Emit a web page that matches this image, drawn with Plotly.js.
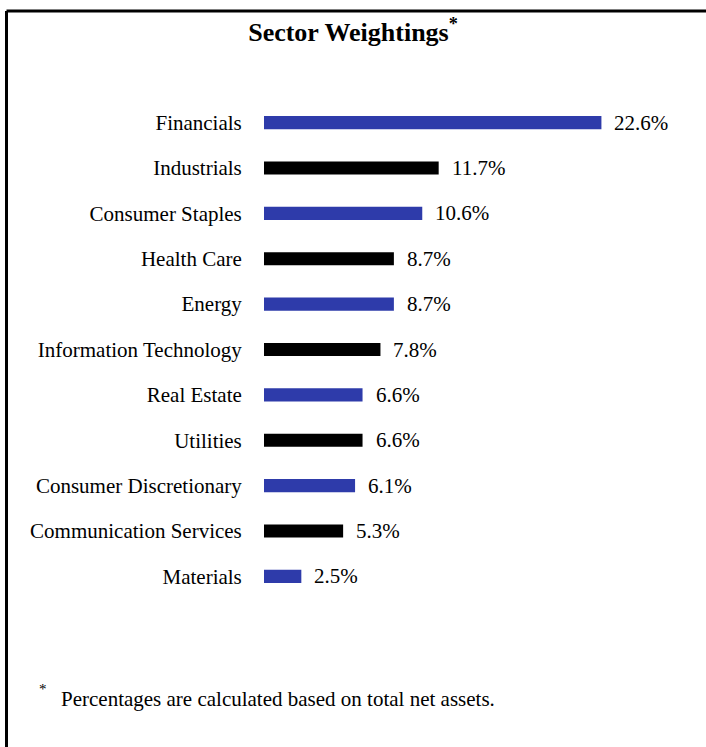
<!DOCTYPE html>
<html>
<head>
<meta charset="utf-8">
<script src="https://cdn.plot.ly/plotly-3.0.1.min.js"></script>
<style>html,body{margin:0;padding:0;background:#fff;}#chart{width:706px;height:747px;}</style>
</head>
<body>
<div id="chart"></div>
<script>
const sectors = ["Financials","Industrials","Consumer Staples","Health Care","Energy","Information Technology","Real Estate","Utilities","Consumer Discretionary","Communication Services","Materials"];
const weights = [22.6, 11.7, 10.6, 8.7, 8.7, 7.8, 6.6, 6.6, 6.1, 5.3, 2.5];
const barColors = ["#2E3BAA","#000000","#2E3BAA","#000000","#2E3BAA","#000000","#2E3BAA","#000000","#2E3BAA","#000000","#2E3BAA"];
const valueLabels = weights.map(v => v.toFixed(1) + "%");
const titleText = "Sector Weightings<sup>*</sup>";
const footnoteText = "Percentages are calculated based on total net assets.";

const FONT = "Liberation Serif";

const trace = {
  type: "bar",
  orientation: "h",
  x: weights,
  y: sectors,
  marker: {color: barColors},
  width: 0.29,
  hoverinfo: "none"
};

const annotations = weights.map((v, i) => ({
  x: v, y: sectors[i], xref: "x", yref: "y",
  text: valueLabels[i], showarrow: false,
  xanchor: "left", yanchor: "middle", xshift: 11,
  font: {family: FONT, size: 21, color: "#000"}
}));

annotations.push({
  xref: "paper", yref: "paper", x: (37 - 264) / 432, y: (599 - 689) / 499,
  text: "*", showarrow: false, xanchor: "left", yanchor: "middle",
  font: {family: FONT, size: 15, color: "#000"}
});
annotations.push({
  xref: "paper", yref: "paper", x: (59 - 264) / 432, y: (599 - 699) / 499,
  text: footnoteText, showarrow: false, xanchor: "left", yanchor: "middle",
  font: {family: FONT, size: 21, color: "#000"}
});

const layout = {
  width: 706, height: 747,
  margin: {l: 264, r: 10, t: 100, b: 148},
  paper_bgcolor: "#fff", plot_bgcolor: "#fff",
  showlegend: false,
  font: {family: FONT},
  title: {
    text: titleText,
    font: {family: FONT, size: 26, color: "#000", weight: "bold"},
    x: 0.5, xref: "container", xanchor: "center",
    y: 1 - 32 / 747, yref: "container", yanchor: "middle"
  },
  xaxis: {range: [0, 432 / 14.93], visible: false, fixedrange: true},
  yaxis: {
    autorange: "reversed", showgrid: false, zeroline: false, showline: false,
    ticks: "outside", ticklen: 0, ticklabelstandoff: 17,
    tickfont: {family: FONT, size: 21, color: "#000"}, fixedrange: true
  },
  annotations: annotations,
  shapes: [
    {type: "line", xref: "paper", yref: "paper", x0: (6.5 - 264) / 432, x1: (720 - 264) / 432, y0: (599 - 11) / 499, y1: (599 - 11) / 499, line: {color: "#000", width: 3}},
    {type: "line", xref: "paper", yref: "paper", x0: (6.5 - 264) / 432, x1: (6.5 - 264) / 432, y0: (599 - 11) / 499, y1: (599 - 760) / 499, line: {color: "#000", width: 3}}
  ]
};

Plotly.newPlot("chart", [trace], layout, {displayModeBar: false, staticPlot: true});
</script>
</body>
</html>
